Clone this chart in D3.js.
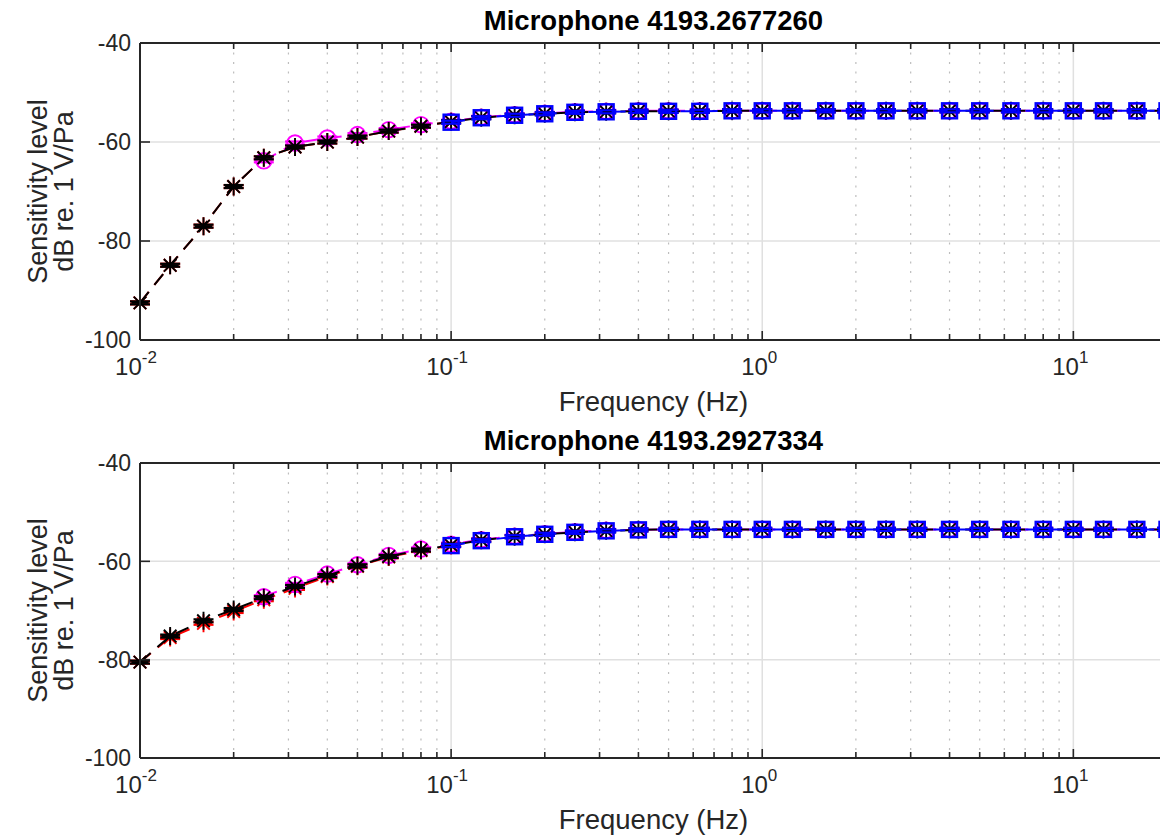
<!DOCTYPE html>
<html>
<head>
<meta charset="utf-8">
<script src="https://cdn.jsdelivr.net/npm/d3@7"></script>
<style>
  body { margin: 0; background: #fff; }
  svg { display: block; font-family: "Liberation Sans", Arial, sans-serif; }
</style>
</head>
<body>
<div id="chart"></div>
<script>
// 1/3-octave centre frequencies (Hz)
const freqs = [0.01, 0.0125, 0.016, 0.02, 0.025, 0.0315, 0.04, 0.05, 0.063, 0.08,
  0.1, 0.125, 0.16, 0.2, 0.25, 0.315, 0.4, 0.5, 0.63, 0.8,
  1, 1.25, 1.6, 2, 2.5, 3.15, 4, 5, 6.3, 8, 10, 12.5, 16, 20];
const freqsRed = freqs.slice(0, 11);   // 0.01 .. 0.1
const freqsMagenta = freqs.slice(4);   // 0.025 .. 20
const freqsBlue = freqs.slice(10);     // 0.1 .. 20

const titles = ['Microphone 4193.2677260', 'Microphone 4193.2927334'];
const yTicks = [-40, -60, -80, -100];
const xTickExps = [-2, -1, 0, 1];

// top microphone (dB re. 1 V/Pa)
const topRed = [-92.5, -84.9, -77.0, -69.0, -63.2, -61.0, -60.0, -59.0, -57.8, -56.8, -55.9];
const topMagenta = [-63.8, -60.2, -59.2, -58.5, -57.5, -56.5, -55.8, -55.0, -54.5, -54.2, -53.9,
  -53.8, -53.7, -53.7, -53.7, -53.7, -53.7, -53.7, -53.7, -53.7, -53.7, -53.7, -53.7, -53.7,
  -53.7, -53.7, -53.7, -53.7, -53.7, -53.7];
const topBlue = [-56.0, -55.1, -54.6, -54.3, -54.0, -53.9, -53.8, -53.8, -53.8, -53.7, -53.7,
  -53.7, -53.7, -53.7, -53.7, -53.7, -53.7, -53.7, -53.7, -53.7, -53.7, -53.7, -53.7, -53.7];
const topBlack = [-92.5, -84.9, -77.0, -69.0, -63.2, -61.0, -60.0, -59.0, -57.8, -56.8,
  -55.9, -55.1, -54.6, -54.3, -54.0, -53.9, -53.8, -53.8, -53.8, -53.7, -53.7, -53.7, -53.7,
  -53.7, -53.7, -53.7, -53.7, -53.7, -53.7, -53.7, -53.7, -53.7, -53.7, -53.7];

// bottom microphone
const botRed = [-80.5, -75.5, -72.6, -70.2, -67.8, -65.5, -63.1, -61.0, -59.1, -57.8, -56.8];
const botMagenta = [-67.2, -64.7, -62.6, -60.7, -58.8, -57.5, -56.5, -55.6, -54.9, -54.4, -54.0,
  -53.7, -53.6, -53.5, -53.5, -53.5, -53.5, -53.5, -53.5, -53.5, -53.5, -53.5, -53.5, -53.5,
  -53.5, -53.5, -53.5, -53.5, -53.5, -53.5];
const botBlue = [-56.8, -55.8, -55.0, -54.5, -54.1, -53.8, -53.6, -53.5, -53.5, -53.5, -53.5,
  -53.5, -53.5, -53.5, -53.5, -53.5, -53.5, -53.5, -53.5, -53.5, -53.5, -53.5, -53.5, -53.5];
const botBlack = [-80.5, -75.2, -72.1, -69.8, -67.4, -65.1, -62.9, -60.9, -59.0, -57.7,
  -56.7, -55.7, -55.0, -54.5, -54.1, -53.8, -53.6, -53.5, -53.5, -53.5, -53.5, -53.5, -53.5,
  -53.5, -53.5, -53.5, -53.5, -53.5, -53.5, -53.5, -53.5, -53.5, -53.5, -53.5];

const W = 1160, H = 837;
const axColor = '#262626';
const plotLeft = 140, plotRight = 1167;
const dash = '14,9';

const svg = d3.select('#chart').append('svg')
  .attr('width', W).attr('height', H);

const x = d3.scaleLog().domain([0.01, 20]).range([plotLeft, plotRight]);

const panels = [
  { top: 43, bottom: 340, title: titles[0],
    series: [
      { f: freqsRed, v: topRed, color: '#ff0000', marker: 'star' },
      { f: freqsMagenta, v: topMagenta, color: '#ff00ff', marker: 'circle' },
      { f: freqs, v: topBlack, color: '#000000', marker: 'star' },
      { f: freqsBlue, v: topBlue, color: '#0000ff', marker: 'square' }
    ] },
  { top: 463, bottom: 758, title: titles[1],
    series: [
      { f: freqsRed, v: botRed, color: '#ff0000', marker: 'star' },
      { f: freqsMagenta, v: botMagenta, color: '#ff00ff', marker: 'circle' },
      { f: freqs, v: botBlack, color: '#000000', marker: 'star' },
      { f: freqsBlue, v: botBlue, color: '#0000ff', marker: 'square' }
    ] }
];

const minorTicks = [];
for (let e = -2; e <= 1; e++) {
  for (let m = 2; m <= 9; m++) {
    const v = m * Math.pow(10, e);
    if (v <= 20) minorTicks.push(v);
  }
}
const majorTicks = xTickExps.map(e => Math.pow(10, e));

panels.forEach((p, pi) => {
  const y = d3.scaleLinear().domain([-100, -40]).range([p.bottom, p.top]);
  const g = svg.append('g');

  // grid
  g.selectAll('.minor-grid').data(minorTicks).enter().append('line')
    .attr('x1', d => x(d)).attr('x2', d => x(d))
    .attr('y1', p.top).attr('y2', p.bottom)
    .attr('stroke', '#bdbdbd').attr('stroke-width', 1.2)
    .attr('stroke-dasharray', '2,7.5');
  g.selectAll('.major-grid').data(majorTicks).enter().append('line')
    .attr('x1', d => x(d)).attr('x2', d => x(d))
    .attr('y1', p.top).attr('y2', p.bottom)
    .attr('stroke', '#e0e0e0').attr('stroke-width', 1.5);
  g.selectAll('.y-grid').data(yTicks).enter().append('line')
    .attr('x1', plotLeft).attr('x2', plotRight)
    .attr('y1', d => y(d)).attr('y2', d => y(d))
    .attr('stroke', '#e0e0e0').attr('stroke-width', 1.5);

  // data
  const clipId = 'clip' + pi;
  svg.append('clipPath').attr('id', clipId).append('rect')
    .attr('x', plotLeft).attr('y', p.top)
    .attr('width', plotRight - plotLeft).attr('height', p.bottom - p.top);

  const data = g.append('g');
  const line = d3.line().x(d => x(d[0])).y(d => y(d[1]));

  p.series.forEach(s => {
    const pts = s.f.map((f, i) => [f, s.v[i]]);
    const sg = data.append('g');
    sg.append('path')
      .attr('d', line(pts))
      .attr('fill', 'none')
      .attr('stroke', s.color)
      .attr('stroke-width', 2)
      .attr('stroke-dasharray', dash)
      .attr('clip-path', `url(#${clipId})`);

    // error bar caps (tiny errors, the two caps nearly overlap)
    [-1.5, 1.5].forEach(off => {
      sg.selectAll(null).data(pts).enter().append('line')
        .attr('x1', d => x(d[0]) - 10).attr('x2', d => x(d[0]) + 10)
        .attr('y1', d => y(d[1]) + off).attr('y2', d => y(d[1]) + off)
        .attr('stroke', s.color).attr('stroke-width', 2.2);
    });

    const mk = sg.selectAll(null).data(pts).enter().append('g')
      .attr('transform', d => `translate(${x(d[0])},${y(d[1])})`);
    if (s.marker === 'star') {
      mk.append('path')
        .attr('d', 'M-8.5,0H8.5M0,-9V9M-6.3,-6.3L6.3,6.3M-6.3,6.3L6.3,-6.3')
        .attr('stroke', s.color).attr('stroke-width', 1.9).attr('fill', 'none');
    } else if (s.marker === 'circle') {
      mk.append('circle').attr('r', 7.8)
        .attr('stroke', s.color).attr('stroke-width', 1.9).attr('fill', 'none');
    } else {
      mk.append('rect').attr('x', -7.5).attr('y', -7.5).attr('width', 15).attr('height', 15)
        .attr('stroke', s.color).attr('stroke-width', 2.4).attr('fill', 'none');
    }
  });

  // axes box
  const ax = g.append('g');
  ax.append('line').attr('x1', plotLeft).attr('x2', plotRight)
    .attr('y1', p.bottom).attr('y2', p.bottom)
    .attr('stroke', axColor).attr('stroke-width', 2);
  ax.append('line').attr('x1', plotLeft).attr('x2', plotRight)
    .attr('y1', p.top).attr('y2', p.top)
    .attr('stroke', axColor).attr('stroke-width', 2);
  ax.append('line').attr('x1', plotLeft).attr('x2', plotLeft)
    .attr('y1', p.top).attr('y2', p.bottom)
    .attr('stroke', axColor).attr('stroke-width', 2);

  // x ticks (inward, top & bottom)
  [[majorTicks, 9], [minorTicks, 6]].forEach(([ticks, len]) => {
    ax.selectAll(null).data(ticks).enter().append('line')
      .attr('x1', d => x(d)).attr('x2', d => x(d))
      .attr('y1', p.bottom).attr('y2', p.bottom - len)
      .attr('stroke', axColor).attr('stroke-width', 1.6);
    ax.selectAll(null).data(ticks).enter().append('line')
      .attr('x1', d => x(d)).attr('x2', d => x(d))
      .attr('y1', p.top).attr('y2', p.top + len)
      .attr('stroke', axColor).attr('stroke-width', 1.6);
  });
  // y ticks
  ax.selectAll(null).data(yTicks).enter().append('line')
    .attr('x1', plotLeft).attr('x2', plotLeft + 10)
    .attr('y1', d => y(d)).attr('y2', d => y(d))
    .attr('stroke', axColor).attr('stroke-width', 1.6);

  // y tick labels
  ax.selectAll(null).data(yTicks).enter().append('text')
    .attr('x', plotLeft - 9).attr('y', d => y(d))
    .attr('dy', '0.36em')
    .attr('text-anchor', 'end')
    .attr('font-size', 23).attr('fill', axColor)
    .text(d => d);

  // x tick labels 10^n
  const xl = ax.selectAll(null).data(xTickExps).enter().append('text')
    .attr('x', d => x(Math.pow(10, d)) + (d < 0 ? -4 : -3))
    .attr('y', p.bottom + 35)
    .attr('text-anchor', 'middle')
    .attr('font-size', 24).attr('fill', axColor);
  xl.append('tspan').text('10');
  xl.append('tspan').attr('dy', -12).attr('font-size', 17).text(d => d);

  // title
  g.append('text')
    .attr('x', (plotLeft + plotRight) / 2).attr('y', p.top - 13)
    .attr('text-anchor', 'middle')
    .attr('font-size', 27.5).attr('font-weight', 'bold').attr('fill', '#000')
    .text(p.title);

  // axis labels
  g.append('text')
    .attr('x', (plotLeft + plotRight) / 2).attr('y', p.bottom + 71)
    .attr('text-anchor', 'middle')
    .attr('font-size', 27.5).attr('fill', axColor)
    .text('Frequency (Hz)');

  const cy = (p.top + p.bottom) / 2;
  g.append('text')
    .attr('transform', `translate(47,${cy}) rotate(-90)`)
    .attr('text-anchor', 'middle')
    .attr('font-size', 27).attr('fill', axColor)
    .text('Sensitivity level');
  g.append('text')
    .attr('transform', `translate(73,${cy}) rotate(-90)`)
    .attr('text-anchor', 'middle')
    .attr('font-size', 27).attr('fill', axColor)
    .text('dB re. 1 V/Pa');
});
</script>
</body>
</html>
